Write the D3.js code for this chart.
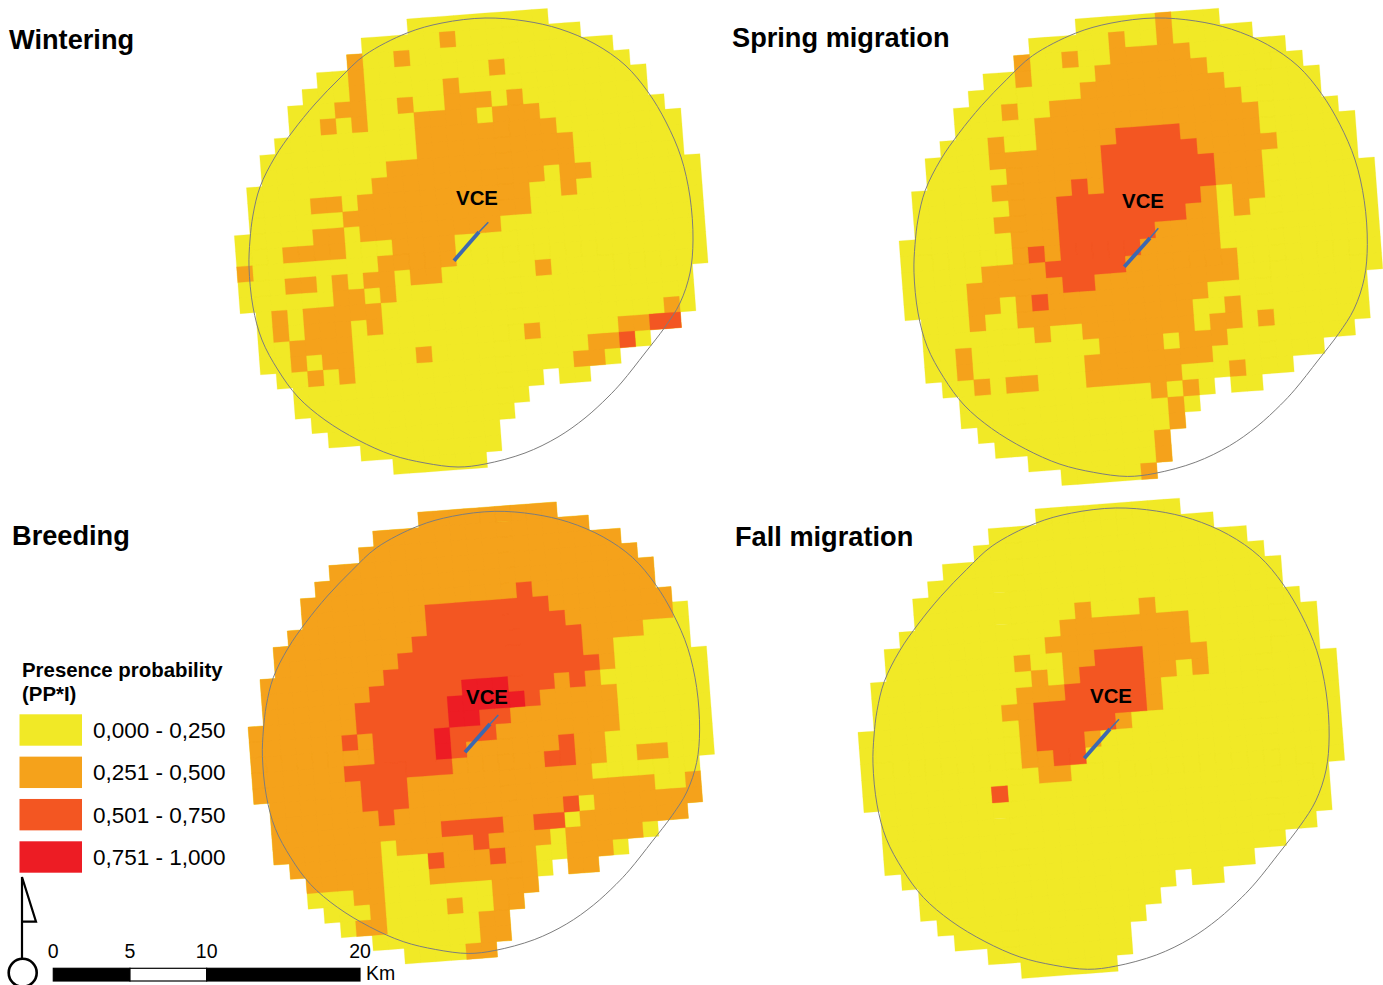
<!DOCTYPE html>
<html>
<head>
<meta charset="utf-8">
<script src="https://cdn.jsdelivr.net/npm/d3@7/dist/d3.min.js"></script>
<style>
html,body{margin:0;padding:0;background:#fff;overflow:hidden}
svg{display:block}
text{font-family:"Liberation Sans",Arial,sans-serif;fill:#000}
</style>
</head>
<body>
<svg id="chart" width="1383" height="985"></svg>
<script>
// Raster categories
const classLabels = ["0,000 - 0,250","0,251 - 0,500","0,501 - 0,750","0,751 - 1,000"];
const classLevels = [1,2,3,4];
const classColors = ["#F1E926","#F5A21B","#F35622","#ED1C24"];

// Study area footprint: [row, first column, last column]
const maskRuns = [[0,0,8],[1,-3,10],[2,-4,12],[3,-6,13],[4,-7,14],[5,-8,14],[6,-8,15],[7,-9,16],[8,-10,16],[9,-10,16],[10,-11,17],[11,-11,17],[12,-11,17],[13,-12,17],[14,-12,17],[15,-12,17],[16,-12,17],[17,-12,16],[18,-11,16],[19,-11,16],[20,-11,15],[21,-11,13],[22,-10,11],[23,-9,6],[23,8,9],[24,-9,5],[25,-8,4],[26,-7,3],[27,-5,3],[28,-3,2]];

// Per season: [row, first column, last column, class]
const winteringRuns = [[1,2,2,2],[2,-4,-4,2],[2,-1,-1,2],[3,-4,-4,2],[3,5,5,2],[4,-4,-4,2],[4,2,2,2],[5,-5,-4,2],[5,-1,-1,2],[5,2,4,2],[5,6,6,2],[6,-6,-6,2],[6,-4,-4,2],[6,0,3,2],[6,5,7,2],[7,0,8,2],[8,0,9,2],[9,-2,9,2],[10,-3,7,2],[10,9,10,2],[11,-7,-6,2],[11,-4,6,2],[11,9,9,2],[12,-5,6,2],[13,-7,-6,2],[13,-4,4,2],[14,-9,-6,2],[14,-2,1,2],[15,-12,-12,2],[15,-3,1,2],[16,-9,-8,2],[16,-6,-6,2],[16,-4,-3,2],[16,-1,0,2],[16,7,7,2],[17,-6,-5,2],[17,-3,-3,2],[18,-10,-10,2],[18,-8,-4,2],[19,-10,-10,2],[19,-8,-6,2],[19,-4,-4,2],[19,15,15,2],[20,-9,-6,2],[20,6,6,2],[20,12,13,2],[20,14,15,3],[21,-9,-9,2],[21,-7,-6,2],[21,-1,-1,2],[21,10,11,2],[21,12,12,3],[22,-8,-8,2],[22,-6,-6,2],[22,9,10,2]];

const springRuns = [[0,5,5,2],[1,2,2,2],[1,5,5,2],[2,-4,-4,2],[2,-1,-1,2],[2,2,6,2],[3,-4,-4,2],[3,1,7,2],[4,0,8,2],[5,-5,-5,2],[5,-2,9,2],[6,-3,10,2],[7,-6,-6,2],[7,-3,1,2],[7,2,5,3],[7,6,10,2],[8,-6,0,2],[8,1,6,3],[8,7,11,2],[9,-5,0,2],[9,1,7,3],[9,8,10,2],[10,-6,-2,2],[10,-1,-1,3],[10,0,0,2],[10,1,7,3],[10,8,10,2],[11,-5,-3,2],[11,-2,6,3],[11,7,7,2],[11,9,10,2],[12,-6,-3,2],[12,-2,5,3],[12,6,7,2],[12,9,9,2],[13,-5,-3,2],[13,-2,3,3],[13,4,7,2],[14,-5,-5,2],[14,-4,-4,3],[14,-3,-3,2],[14,-2,2,3],[14,3,7,2],[15,-7,-4,2],[15,-3,1,3],[15,2,8,2],[16,-8,-3,2],[16,-2,-1,3],[16,0,8,2],[17,-8,-7,2],[17,-5,-5,2],[17,-4,-4,3],[17,-3,6,2],[18,-8,-8,2],[18,-5,5,2],[18,8,8,2],[19,-4,-4,2],[19,-1,5,2],[19,7,8,2],[19,10,10,2],[20,-9,-9,2],[20,0,3,2],[20,5,7,2],[21,-9,-9,2],[21,-1,6,2],[22,-8,-8,2],[22,-6,-5,2],[22,-1,4,2],[22,8,8,2],[23,3,3,2],[23,5,5,2],[24,4,4,2],[25,4,4,2],[26,3,3,2],[27,3,3,2],[28,2,2,2]];

const breedingRuns = [[5,6,6,3],[6,0,7,3],[7,0,8,3],[7,16,16,1],[8,-1,9,3],[8,14,16,1],[9,-2,9,3],[9,12,16,1],[10,-3,10,3],[10,12,17,1],[11,-4,1,3],[11,2,4,4],[11,5,7,3],[11,9,9,3],[11,11,17,1],[12,-5,0,3],[12,1,5,4],[12,6,6,3],[12,12,17,1],[13,-5,0,3],[13,1,2,4],[13,3,4,3],[13,12,17,1],[14,-6,-6,3],[14,-4,-1,3],[14,0,0,4],[14,1,3,3],[14,12,17,1],[15,-4,-1,3],[15,0,0,4],[15,1,1,3],[15,8,8,3],[15,11,17,1],[16,-6,0,3],[16,7,8,3],[16,11,12,1],[16,15,17,1],[17,-5,-3,3],[17,10,16,1],[18,-5,-3,3],[18,14,15,1],[19,-4,-4,3],[19,8,8,3],[19,9,9,1],[20,0,3,3],[20,6,7,3],[20,8,8,1],[21,-4,-4,1],[21,2,2,3],[21,7,7,1],[21,13,13,1],[22,-4,-2,1],[22,-1,-1,3],[22,3,3,3],[22,6,7,1],[22,11,11,1],[23,-4,-2,1],[23,6,6,1],[24,-9,-7,1],[24,-4,2,1],[25,-8,-6,1],[25,-4,-1,1],[25,1,2,1],[26,-7,-7,1],[26,-4,1,1],[27,-5,1,1],[28,-3,0,1]];

const fallRuns = [[6,2,2,2],[6,6,6,2],[7,1,8,2],[8,0,8,2],[9,-2,-2,2],[9,1,2,2],[9,3,5,3],[9,6,9,2],[10,-1,-1,2],[10,1,1,2],[10,2,5,3],[10,6,7,2],[10,9,9,2],[11,-2,0,2],[11,1,5,3],[11,6,6,2],[12,-3,-2,2],[12,-1,5,3],[12,6,6,2],[13,-2,-2,2],[13,-1,3,3],[13,4,4,2],[14,-2,-2,2],[14,-1,1,3],[14,2,2,2],[15,-2,-1,2],[15,0,1,3],[16,-1,0,2],[17,-4,-4,3]];

// Buffer outline
const outlinePoints = [[485,18],[525,21],[560,29],[595,44],[625,65],[648,92],[666,122],[681,157],[690,197],[693,240],[690,273],[680,303],[665,327],[645,353],[622,382],[608,397],[585,418],[558,437],[525,453],[485,464],[458,467],[425,463],[392,455],[358,440],[325,420],[298,397],[278,370],[262,340],[253,307],[249,267],[250,240],[253,215],[260,187],[275,157],[293,131],[315,104],[340,78],[365,55],[407,33],[442,23]];
const outlineOrigin = [406.7,19];
const outlineCell = 15.68;

// Panels
const panels = [
  {title:"Wintering",        runs:winteringRuns, base:1, ax:406.7, ay:19,    su:15.68, sv:15.63, tx:9,   ty:49, vx:477,  vy:205, line:[454,260.7,479,232,488.3,222.3]},
  {title:"Spring migration", runs:springRuns,    base:1, ax:1075,  ay:19,    su:16.01, sv:16.01, tx:732, ty:47, vx:1143, vy:208, line:[1124.3,266.7,1150,238,1158.3,228.3]},
  {title:"Breeding",         runs:breedingRuns,  base:2, ax:417.7, ay:512.3, su:15.44, sv:15.5,  tx:12,  ty:545,vx:487,  vy:704, line:[465,752.3,490,724,498.3,715]},
  {title:"Fall migration",   runs:fallRuns,      base:1, ax:1035,  ay:509,   su:16.11, sv:16.11, tx:735, ty:546,vx:1111, vy:703, line:[1084.3,758.3,1110,729,1119,719.3]}
];
const tiltDeg = -4.3;

// Scale bar
const scaleTicks = [0,5,10,20];
const scaleSegments = [[0,5,"#000"],[5,10,"#fff"],[10,20,"#000"]];

const svg = d3.select("#chart");
svg.append("rect").attr("width",1383).attr("height",985).attr("fill","#fff");
const color = d3.scaleOrdinal().domain(classLevels).range(classColors);

panels.forEach(p=>{
  const x = d3.scaleLinear().domain([-12,18]).range([-12*p.su,18*p.su]);
  const y = d3.scaleLinear().domain([0,29]).range([0,29*p.sv]);
  const cells = new Map();
  maskRuns.forEach(([r,a,b])=>{ for(let c=a;c<=b;c++) cells.set(r+","+c,{r,c,level:p.base}); });
  p.runs.forEach(([r,a,b,l])=>{ for(let c=a;c<=b;c++) cells.set(r+","+c,{r,c,level:l}); });
  const data = Array.from(cells.values());

  // one seam-free shape per class, each painted over the classes below it
  const cellPath = d=>`M${x(d.c)},${y(d.r)}H${x(d.c+1)}V${y(d.r+1)}H${x(d.c)}Z`;
  const g = svg.append("g").attr("transform",`translate(${p.ax},${p.ay}) rotate(${tiltDeg})`);
  g.selectAll("path").data(classLevels).join("path")
    .attr("d",l=>data.filter(d=>d.level>=l).map(cellPath).join(""))
    .attr("fill",l=>color(l))
    .attr("stroke",l=>color(l)).attr("stroke-width",0.25);

  // outline
  const k = p.su/outlineCell;
  const ox = d3.scaleLinear().domain([outlineOrigin[0],outlineOrigin[0]+100]).range([p.ax,p.ax+100*k]);
  const oy = d3.scaleLinear().domain([outlineOrigin[1],outlineOrigin[1]+100]).range([p.ay,p.ay+100*k]);
  svg.append("path")
    .attr("d",d3.line().x(d=>ox(d[0])).y(d=>oy(d[1])).curve(d3.curveCatmullRomClosed.alpha(0.5))(outlinePoints))
    .attr("fill","none").attr("stroke","#7d7d7d").attr("stroke-width",1);

  // turbine string
  const L = p.line;
  svg.append("line").attr("x1",L[0]).attr("y1",L[1]).attr("x2",L[2]).attr("y2",L[3])
    .attr("stroke","#3D68B0").attr("stroke-width",3.8);
  svg.append("line").attr("x1",L[2]).attr("y1",L[3]).attr("x2",L[4]).attr("y2",L[5])
    .attr("stroke","#4A6FA8").attr("stroke-width",1.6);

  svg.append("text").attr("x",p.vx).attr("y",p.vy).attr("text-anchor","middle")
    .attr("font-size",20.4).attr("font-weight","bold").text("VCE");
  svg.append("text").attr("x",p.tx).attr("y",p.ty)
    .attr("font-size",27.2).attr("font-weight","bold").text(p.title);
});

// Legend
svg.append("text").attr("x",22).attr("y",677).attr("font-size",20.4).attr("font-weight","bold").text("Presence probability");
svg.append("text").attr("x",22).attr("y",701).attr("font-size",20.4).attr("font-weight","bold").text("(PP*I)");
const legendY = d3.scaleLinear().domain([0,3]).range([714.3,841.3]);
const legend = svg.append("g").selectAll("g").data(classLabels).join("g");
legend.append("rect").attr("x",19.5).attr("y",(d,i)=>legendY(i)).attr("width",62.5).attr("height",31.4)
  .attr("fill",(d,i)=>color(classLevels[i]));
legend.append("text").attr("x",93).attr("y",(d,i)=>legendY(i)+23.7).attr("font-size",22.5).text(d=>d);

// North arrow
svg.append("path").attr("d","M22,958V877L36,921.7H22").attr("fill","none").attr("stroke","#000").attr("stroke-width",2.2);
svg.append("circle").attr("cx",22.7).attr("cy",972.7).attr("r",14).attr("fill","#fff").attr("stroke","#000").attr("stroke-width",2.6);

// Scale bar
const km = d3.scaleLinear().domain([0,20]).range([53.3,360]);
svg.append("g").selectAll("rect").data(scaleSegments).join("rect")
  .attr("x",d=>km(d[0])).attr("y",968.3).attr("width",d=>km(d[1])-km(d[0])).attr("height",12.7)
  .attr("fill",d=>d[2]).attr("stroke","#000").attr("stroke-width",1.2);
svg.append("g").selectAll("text").data(scaleTicks).join("text")
  .attr("x",d=>km(d)).attr("y",958.3).attr("text-anchor","middle").attr("font-size",19.5).text(d=>d);
svg.append("text").attr("x",366).attr("y",980).attr("font-size",19.5).text("Km");
</script>
</body>
</html>
